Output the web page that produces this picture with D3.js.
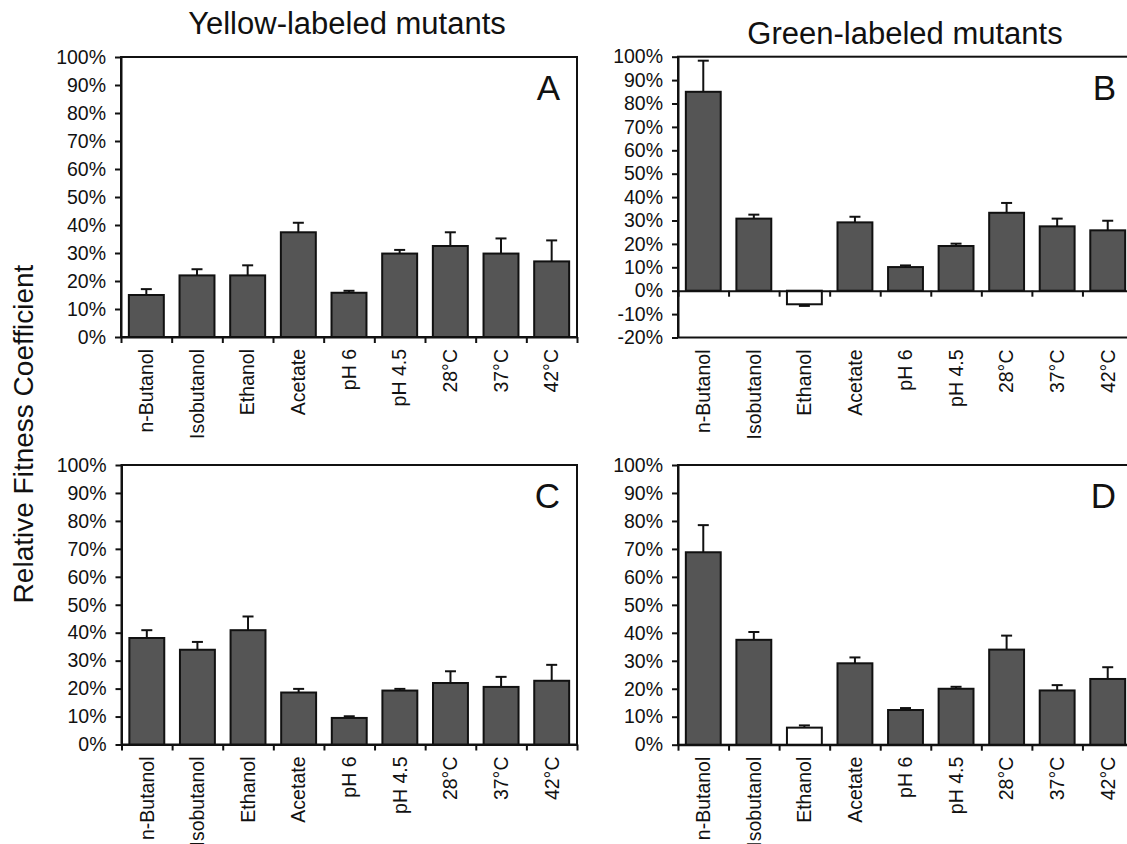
<!DOCTYPE html>
<html>
<head>
<meta charset="utf-8">
<script src="https://cdn.jsdelivr.net/npm/d3@7"></script>
<style>
  body { margin: 0; background: #fff; }
  svg { display: block; font-family: "Liberation Sans", Arial, sans-serif; }
</style>
</head>
<body>
<svg id="chart" width="1127" height="844"></svg>
<script>
// categories along the x axis (same for every panel)
const categories = ["n-Butanol", "Isobutanol", "Ethanol", "Acetate", "pH 6", "pH 4.5", "28°C", "37°C", "42°C"];

// relative fitness coefficient, in percent, and the error bar length
const valuesA = [15.0, 22.0, 22.0, 37.4, 15.8, 29.8, 32.5, 29.8, 27.0];
const errorsA = [2.1, 2.2, 3.6, 3.4, 0.7, 1.3, 4.9, 5.4, 7.5];

const valuesB = [85.0, 30.8, -5.8, 29.2, 10.1, 19.1, 33.3, 27.5, 25.8];
const errorsB = [13.3, 1.7, 0.7, 2.4, 0.7, 1.0, 4.2, 3.3, 4.1];

const valuesC = [38.1, 33.9, 40.9, 18.6, 9.5, 19.3, 22.0, 20.6, 22.8];
const errorsC = [2.8, 2.8, 4.9, 1.3, 0.6, 0.6, 4.2, 3.6, 5.7];

const valuesD = [68.8, 37.5, 6.1, 29.1, 12.4, 20.0, 34.0, 19.4, 23.5];
const errorsD = [9.7, 2.8, 0.8, 2.1, 0.7, 0.7, 5.0, 1.9, 4.2];

// y tick labels
const ticksPos = [0, 10, 20, 30, 40, 50, 60, 70, 80, 90, 100];
const ticksNeg = [-20, -10, 0, 10, 20, 30, 40, 50, 60, 70, 80, 90, 100];

// categories drawn as open (white) bars in the green panels
const openBars = ["Ethanol"];

const titles = ["Yellow-labeled mutants", "Green-labeled mutants"];
const yTitle = "Relative Fitness Coefficient";

let svg = d3.select("#chart");

let panels = [
  {letter: "A", values: valuesA, errors: errorsA, ticks: ticksPos, left: 121, right: 577, top: 57, bottom: 337, green: false},
  {letter: "B", values: valuesB, errors: errorsB, ticks: ticksNeg, left: 678, right: 1133, top: 56.7, bottom: 337.5, green: true},
  {letter: "C", values: valuesC, errors: errorsC, ticks: ticksPos, left: 121.5, right: 577, top: 465, bottom: 744.5, green: false},
  {letter: "D", values: valuesD, errors: errorsD, ticks: ticksPos, left: 678, right: 1133, top: 465, bottom: 744.7, green: true}
];

panels.forEach(p => {
  let x = d3.scaleBand().domain(categories).range([p.left, p.right])
            .paddingInner(0.31).paddingOuter(0.155);
  let xb = d3.scaleLinear().domain([0, categories.length]).range([p.left, p.right]);
  let y = d3.scaleLinear().domain(d3.extent(p.ticks)).range([p.bottom, p.top]);

  let g = svg.append("g");

  // frame round the plot
  g.append("rect")
    .attr("x", p.left).attr("y", p.top)
    .attr("width", p.right - p.left).attr("height", p.bottom - p.top)
    .attr("fill", "none").attr("stroke", "#111").attr("stroke-width", 2);

  let data = categories.map((c, i) => ({cat: c, v: p.values[i], e: p.errors[i]}));

  // error bars (one sided, away from zero)
  let capW = 11;
  let eb = g.selectAll(".err").data(data).enter().append("g");
  eb.append("line")
    .attr("x1", d => x(d.cat) + x.bandwidth() / 2)
    .attr("x2", d => x(d.cat) + x.bandwidth() / 2)
    .attr("y1", d => y(d.v))
    .attr("y2", d => y(d.v < 0 ? d.v - d.e : d.v + d.e))
    .attr("stroke", "#111").attr("stroke-width", 2);
  eb.append("line")
    .attr("x1", d => x(d.cat) + x.bandwidth() / 2 - capW / 2)
    .attr("x2", d => x(d.cat) + x.bandwidth() / 2 + capW / 2)
    .attr("y1", d => y(d.v < 0 ? d.v - d.e : d.v + d.e))
    .attr("y2", d => y(d.v < 0 ? d.v - d.e : d.v + d.e))
    .attr("stroke", "#111").attr("stroke-width", 2);

  // bars
  g.selectAll(".bar").data(data).enter().append("rect")
    .attr("x", d => x(d.cat))
    .attr("width", x.bandwidth())
    .attr("y", d => y(Math.max(0, d.v)))
    .attr("height", d => Math.abs(y(d.v) - y(0)))
    .attr("fill", d => (p.green && openBars.includes(d.cat)) ? "#fff" : "#555")
    .attr("stroke", "#111").attr("stroke-width", 2);

  // y axis
  let ya = g.append("g")
    .attr("transform", `translate(${p.left},0)`)
    .call(d3.axisLeft(y).tickValues(p.ticks).tickFormat(d => d + "%").tickSize(6).tickSizeOuter(0).tickPadding(9));

  // x axis at zero with ticks on the category boundaries
  let xa = g.append("g")
    .attr("transform", `translate(0,${y(0)})`)
    .call(d3.axisBottom(xb).tickValues(d3.range(categories.length + 1)).tickFormat("").tickSize(6).tickSizeOuter(0));

  // category labels, under the frame
  let xl = g.append("g")
    .attr("transform", `translate(0,${p.bottom})`)
    .call(d3.axisBottom(x).tickSize(0).tickPadding(0));
  xl.select(".domain").remove();
  xl.selectAll(".tick text")
    .style("text-anchor", "end")
    .attr("x", -12)
    .attr("y", 0)
    .attr("dy", "0.35em")
    .attr("transform", "rotate(-90)");

  [ya, xa, xl].forEach(a => {
    a.selectAll("path, line").attr("stroke", "#111").attr("stroke-width", 2);
    a.selectAll("text").attr("fill", "#111").style("font-size", "19.5px").style("font-family", "'Liberation Sans', Arial, sans-serif");
  });

  // panel letter
  g.append("text")
    .attr("x", p.right - 17).attr("y", p.top + 43)
    .attr("text-anchor", "end")
    .style("font-size", "35px").attr("fill", "#111")
    .text(p.letter);
});

// column titles
svg.append("text")
  .attr("x", 347).attr("y", 34).attr("text-anchor", "middle")
  .style("font-size", "31px").attr("fill", "#111")
  .text(titles[0]);
svg.append("text")
  .attr("x", 905).attr("y", 44).attr("text-anchor", "middle")
  .style("font-size", "31px").attr("fill", "#111")
  .text(titles[1]);

// shared y title
svg.append("text")
  .attr("transform", "translate(33,434) rotate(-90)")
  .attr("text-anchor", "middle")
  .style("font-size", "28px").attr("fill", "#111")
  .text(yTitle);
</script>
</body>
</html>
